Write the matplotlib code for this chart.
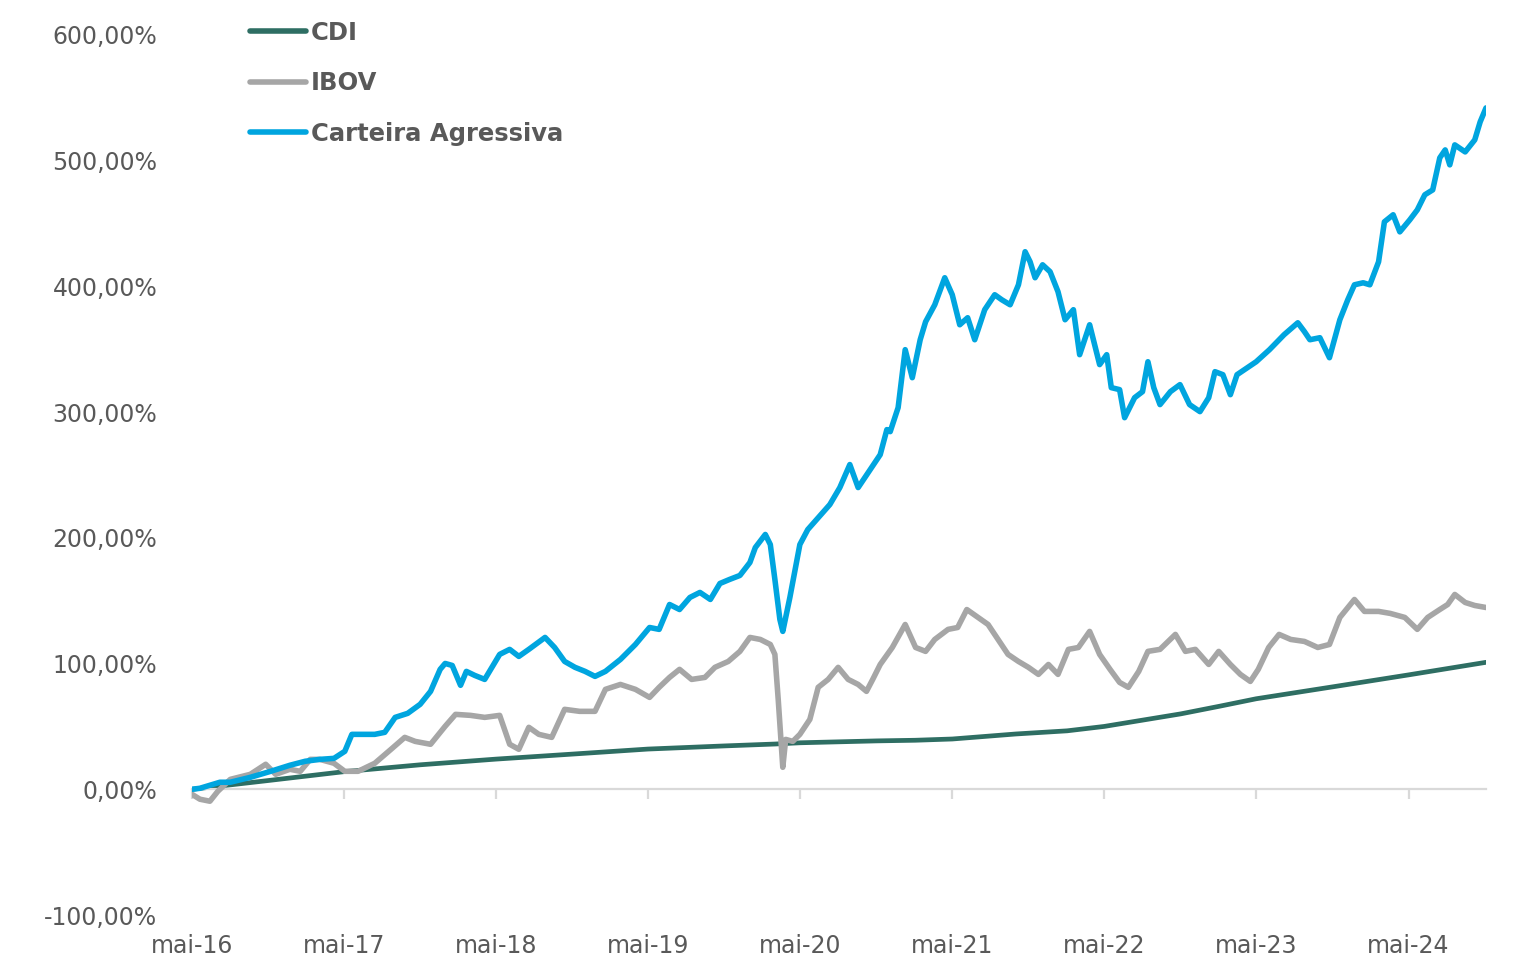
import matplotlib
matplotlib.use("Agg")
import matplotlib.pyplot as plt
import matplotlib.dates as mdates
import pandas as pd
from matplotlib.ticker import FuncFormatter

# Carteira Agressiva (retorno acumulado, %)
cart_dates = [
    "2016-05-01", "2016-05-20", "2016-06-13", "2016-07-07", "2016-08-01", "2016-09-18",
    "2016-11-06", "2016-12-22", "2017-01-28", "2017-03-04", "2017-04-07", "2017-05-03",
    "2017-05-20", "2017-07-14", "2017-08-07", "2017-09-01", "2017-10-01", "2017-10-31",
    "2017-11-25", "2017-12-18", "2017-12-30", "2018-01-16", "2018-02-05", "2018-02-19",
    "2018-03-11", "2018-04-04", "2018-05-10", "2018-06-03", "2018-06-25", "2018-07-19",
    "2018-08-27", "2018-09-19", "2018-10-13", "2018-11-07", "2018-12-01", "2018-12-25",
    "2019-01-19", "2019-02-24", "2019-04-01", "2019-05-05", "2019-05-28", "2019-06-22",
    "2019-07-16", "2019-08-10", "2019-09-03", "2019-09-28", "2019-10-21", "2019-11-13",
    "2019-12-08", "2020-01-01", "2020-01-14", "2020-02-07", "2020-02-19", "2020-03-01",
    "2020-03-13", "2020-03-20", "2020-04-06", "2020-04-30", "2020-05-19", "2020-06-05",
    "2020-07-11", "2020-08-04", "2020-08-28", "2020-09-17", "2020-10-16", "2020-11-09",
    "2020-11-25", "2020-12-03", "2020-12-22", "2021-01-08", "2021-01-25", "2021-02-13",
    "2021-02-26", "2021-03-20", "2021-04-13", "2021-05-01", "2021-05-19", "2021-06-07",
    "2021-06-24", "2021-07-18", "2021-08-11", "2021-08-28", "2021-09-17", "2021-10-07",
    "2021-10-23", "2021-11-04", "2021-11-16", "2021-12-04", "2021-12-22", "2022-01-10",
    "2022-01-27", "2022-02-16", "2022-03-03", "2022-03-27", "2022-04-20", "2022-05-07",
    "2022-05-18", "2022-06-07", "2022-06-19", "2022-07-13", "2022-08-01", "2022-08-14",
    "2022-08-28", "2022-09-12", "2022-10-07", "2022-10-30", "2022-11-22", "2022-12-17",
    "2023-01-07", "2023-01-22", "2023-02-10", "2023-02-28", "2023-03-16", "2023-04-03",
    "2023-05-01", "2023-06-02", "2023-07-07", "2023-08-09", "2023-08-25", "2023-09-07",
    "2023-10-01", "2023-10-24", "2023-11-18", "2023-12-07", "2023-12-23", "2024-01-13",
    "2024-01-29", "2024-02-19", "2024-03-04", "2024-03-25", "2024-04-10", "2024-05-04",
    "2024-05-22", "2024-06-09", "2024-06-28", "2024-07-15", "2024-07-28", "2024-08-08",
    "2024-08-20", "2024-09-14", "2024-10-07", "2024-10-20", "2024-11-03",
]
cart_values = [
    0.0, 0.8, 3.2, 5.6, 5.6, 9.5,
    14.3, 19.1, 22.3, 23.8, 24.6, 30.2,
    43.7, 43.7, 45.3, 57.2, 60.4, 67.6,
    77.9, 95.4, 100.1, 98.5, 82.7, 93.8,
    90.6, 87.4, 107.3, 111.3, 105.7, 111.3,
    120.8, 112.8, 101.7, 97.0, 93.8, 89.8,
    93.8, 103.3, 115.2, 128.7, 127.2, 147.0,
    143.0, 152.6, 156.6, 151.0, 163.7, 166.9,
    170.1, 180.4, 192.3, 202.7, 194.7, 166.9,
    135.1, 125.6, 152.6, 194.7, 206.6, 213.0,
    226.5, 240.0, 258.3, 240.0, 254.3, 266.2,
    286.1, 284.5, 303.6, 349.7, 327.4, 357.6,
    371.9, 385.4, 406.9, 393.4, 369.5, 375.1,
    357.6, 381.5, 393.4, 389.4, 385.4, 401.3,
    427.6, 419.6, 406.9, 417.2, 411.7, 395.8,
    373.5, 381.5, 345.7, 369.5, 337.8, 345.7,
    319.5, 317.9, 295.6, 311.5, 316.3, 340.1,
    319.5, 306.0, 316.3, 321.9, 306.0, 300.4,
    311.5, 332.2, 329.8, 313.9, 329.8, 333.8,
    340.1, 349.7, 361.6, 371.1, 364.0, 357.6,
    359.2, 343.3, 373.5, 389.4, 401.3, 402.9,
    401.3, 419.6, 451.4, 457.0, 443.4, 453.0,
    460.9, 472.9, 476.8, 502.3, 508.6, 496.7,
    512.6, 507.0, 516.6, 530.9, 542.0,
]

# IBOV (retorno acumulado, %)
ibov_dates = [
    "2016-05-01", "2016-05-20", "2016-06-13", "2016-07-02", "2016-08-01", "2016-09-18",
    "2016-10-25", "2016-11-18", "2016-12-22", "2017-01-16", "2017-02-09", "2017-03-04",
    "2017-04-07", "2017-05-03", "2017-06-04", "2017-07-14", "2017-08-22", "2017-09-24",
    "2017-10-19", "2017-11-25", "2017-12-30", "2018-01-24", "2018-03-01", "2018-04-04",
    "2018-05-10", "2018-06-03", "2018-06-25", "2018-07-19", "2018-08-12", "2018-09-12",
    "2018-10-13", "2018-11-18", "2018-12-25", "2019-01-19", "2019-02-24", "2019-04-01",
    "2019-05-05", "2019-05-28", "2019-06-22", "2019-07-16", "2019-08-14", "2019-09-15",
    "2019-10-09", "2019-11-10", "2019-12-08", "2020-01-01", "2020-01-26", "2020-02-19",
    "2020-03-01", "2020-03-09", "2020-03-20", "2020-03-27", "2020-04-13", "2020-04-30",
    "2020-05-24", "2020-06-13", "2020-07-07", "2020-07-31", "2020-08-24", "2020-09-17",
    "2020-10-07", "2020-10-22", "2020-11-09", "2020-12-08", "2021-01-08", "2021-02-02",
    "2021-02-26", "2021-03-20", "2021-04-21", "2021-05-14", "2021-06-05", "2021-07-02",
    "2021-07-26", "2021-08-19", "2021-09-12", "2021-10-07", "2021-10-31", "2021-11-24",
    "2021-12-18", "2022-01-10", "2022-02-04", "2022-02-28", "2022-03-27", "2022-04-20",
    "2022-05-15", "2022-06-07", "2022-06-28", "2022-07-23", "2022-08-14", "2022-09-12",
    "2022-10-19", "2022-11-12", "2022-12-06", "2023-01-07", "2023-01-31", "2023-02-28",
    "2023-03-24", "2023-04-17", "2023-05-06", "2023-05-31", "2023-06-25", "2023-07-23",
    "2023-08-25", "2023-09-26", "2023-10-24", "2023-11-18", "2023-12-23", "2024-01-16",
    "2024-02-19", "2024-03-18", "2024-04-22", "2024-05-22", "2024-06-16", "2024-07-15",
    "2024-08-03", "2024-08-20", "2024-09-14", "2024-10-07", "2024-11-03",
]
ibov_values = [
    -4.0, -7.9, -9.5, -1.6, 7.9, 11.9,
    19.9, 11.9, 15.9, 14.3, 23.8, 23.8,
    20.7, 14.3, 14.3, 20.7, 31.8, 41.3,
    38.1, 35.8, 50.1, 59.6, 58.8, 57.2,
    58.8, 35.8, 31.8, 49.3, 43.7, 41.3,
    63.6, 62.0, 62.0, 79.5, 83.4, 79.5,
    73.1, 81.1, 89.0, 95.4, 87.4, 89.0,
    97.0, 101.7, 109.7, 120.8, 119.2, 115.2,
    107.3, 71.5, 17.5, 39.7, 38.1, 43.7,
    55.6, 81.1, 87.4, 97.0, 87.4, 83.4,
    77.9, 87.4, 99.3, 112.8, 131.1, 112.8,
    109.7, 119.2, 127.2, 128.7, 143.0, 136.7,
    131.1, 119.2, 107.3, 101.7, 97.0, 91.4,
    99.3, 91.4, 111.3, 112.8, 125.6, 107.3,
    95.4, 85.0, 81.1, 93.8, 109.7, 111.3,
    123.2, 109.7, 111.3, 99.3, 109.7, 99.3,
    91.4, 85.8, 95.4, 112.8, 123.2, 119.2,
    117.6, 112.8, 115.2, 136.7, 151.0, 141.5,
    141.5, 139.9, 136.7, 127.2, 136.7, 143.0,
    147.0, 155.0, 148.6, 146.2, 144.6,
]

# CDI (retorno acumulado, %)
cdi_dates = [
    "2016-05-01", "2016-11-01", "2017-05-01", "2017-11-01", "2018-05-01", "2018-11-01",
    "2019-05-01", "2019-11-01", "2020-03-01", "2020-05-01", "2020-11-01", "2021-02-01",
    "2021-05-01", "2021-10-01", "2022-02-01", "2022-05-01", "2022-08-01", "2022-11-01",
    "2023-02-01", "2023-05-01", "2023-11-01", "2024-05-01", "2024-11-03",
]
cdi_values = [
    0.0, 7.0, 14.0, 19.5, 24.0, 28.0,
    32.0, 34.5, 36.0, 37.0, 38.5, 39.0,
    40.0, 44.0, 46.5, 50.0, 55.0, 60.0,
    66.0, 72.0, 81.5, 91.0, 101.0,
]

tick_dates = ["2016-05-01", "2017-05-01", "2018-05-01", "2019-05-01", "2020-05-01",
              "2021-05-01", "2022-05-01", "2023-05-01", "2024-05-01"]
tick_labels = ["mai-16", "mai-17", "mai-18", "mai-19", "mai-20",
               "mai-21", "mai-22", "mai-23", "mai-24"]
y_ticks = [-100, 0, 100, 200, 300, 400, 500, 600]


def to_num(dates):
    return mdates.date2num(pd.to_datetime(dates))


plt.rcParams["font.family"] = ["DejaVu Sans"]
text_color = "#595959"
axis_color = "#D9D9D9"

fig = plt.figure(figsize=(15.21, 9.63), dpi=100)
ax = fig.add_axes([192 / 1521, 1 - 915 / 963, (1486 - 192) / 1521, (915 - 35) / 963])

ax.plot(to_num(cdi_dates), cdi_values, color="#2E6E63", lw=3.4, label="CDI",
        solid_capstyle="round", solid_joinstyle="round", zorder=2)
ax.plot(to_num(ibov_dates), ibov_values, color="#A6A6A6", lw=4.0, label="IBOV",
        solid_capstyle="round", solid_joinstyle="round", zorder=3)
ax.plot(to_num(cart_dates), cart_values, color="#00A5DF", lw=4.0, label="Carteira Agressiva",
        solid_capstyle="round", solid_joinstyle="round", zorder=4)

x0 = to_num(["2016-05-01"])[0]
x1 = to_num(["2024-11-03"])[0]
ax.set_xlim(x0, x1)
ax.set_ylim(-100, 600)

# axis line at zero with tick marks, labels at the bottom
for s in ["top", "right", "left"]:
    ax.spines[s].set_visible(False)
ax.spines["bottom"].set_position(("data", 0))
ax.spines["bottom"].set_color(axis_color)
ax.spines["bottom"].set_linewidth(1.6)
ax.set_xticks(to_num(tick_dates))
ax.tick_params(axis="x", direction="out", length=7, width=1.6, color=axis_color,
               labelbottom=False)

sec = ax.secondary_xaxis("bottom")
sec.set_xticks(to_num(tick_dates), tick_labels)
sec.spines["bottom"].set_visible(False)
sec.tick_params(axis="x", length=0, pad=14, labelsize=17, labelcolor=text_color)

ax.set_yticks(y_ticks)
ax.yaxis.set_major_formatter(FuncFormatter(lambda v, p: f"{v:.2f}".replace(".", ",") + "%"))
ax.tick_params(axis="y", length=0, pad=25, labelsize=17, labelcolor=text_color)

leg = fig.legend(loc="upper left", bbox_to_anchor=(250 / 1521, 1 - 21 / 963),
                 frameon=False, handlelength=2.3, handletextpad=0.2,
                 labelspacing=1.08, borderpad=0, borderaxespad=0,
                 prop={"size": 17.5, "weight": "bold"})
for t in leg.get_texts():
    t.set_color(text_color)
for h in leg.legend_handles:
    h.set_linewidth(4.0)

fig.savefig("out.png", dpi=100)
